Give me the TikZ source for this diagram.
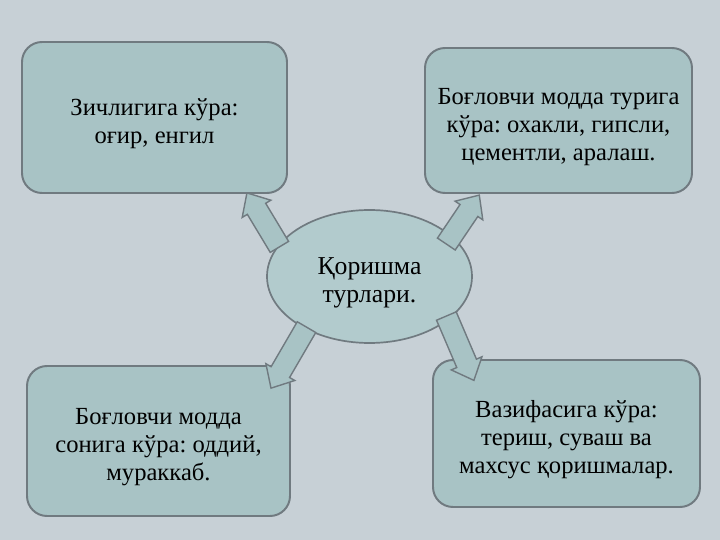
\documentclass[tikz,border=0pt]{standalone}
\usepackage{fontspec}
\setmainfont{Liberation Serif}
\frenchspacing
\usetikzlibrary{shapes.geometric,shapes.arrows}
\definecolor{bgcol}{RGB}{199,208,214}
\definecolor{boxcol}{RGB}{168,195,197}
\definecolor{ellcol}{RGB}{178,203,205}
\definecolor{edgecol}{RGB}{112,122,128}
\begin{document}
\begin{tikzpicture}[
kind/.style = {draw=edgecol, line width=1.4pt, fill=boxcol, rounded corners=0.5cm, inner sep=0pt},
txt/.style = {align=center, inner sep=0pt, yshift=-0.16cm, font=\fontsize{17.5}{19.8}\selectfont},
hub/.style = {ellipse, draw=edgecol, line width=1.2pt, fill=ellcol, inner sep=0pt,
              minimum width=5.125cm, minimum height=3.325cm},
blockarrow/.style = {single arrow, draw=edgecol, line width=1pt, fill=boxcol,
                     inner sep=0.25cm, single arrow head extend=0.15cm,
                     single arrow tip angle=84, minimum height=#1,
                     sloped, allow upside down}
                    ]
\fill[bgcol] (0,0) rectangle (18,13.5);
\useasboundingbox (0,0) rectangle (18,13.5);

    \node[kind, minimum width=6.625cm, minimum height=3.775cm] (dens) at (3.8625,10.5625) {};
    \node[txt] (dens-t) at (dens) {Зичлигига кўра:\\оғир, енгил};
    \node[kind, minimum width=6.675cm, minimum height=3.625cm] (bind) at (13.9625,10.4875) {};
    \node[txt] (bind-t) at (bind) {Боғловчи модда турига\\кўра: охакли, гипсли,\\цементли, аралаш.};
    \node[kind, minimum width=6.575cm, minimum height=3.75cm] (count) at (3.9625,2.475) {};
    \node[txt] (count-t) at (count) {Боғловчи модда\\сонига кўра: оддий,\\мураккаб.};
    \node[kind, minimum width=6.675cm, minimum height=3.675cm] (use) at (14.1625,2.6625) {};
    \node[txt] (use-t) at (use) {Вазифасига кўра:\\териш, суваш ва\\махсус қоришмалар.};

    \node[hub] (mortar) at (9.2375,6.5875) {};
    \node[txt, font=\fontsize{18.3}{20.5}\selectfont] (mortar-t) at (mortar) {Қоришма\\турлари.};

    \coordinate (t1) at (7.0625,7.2);   \coordinate (h1) at (6.25,8.55);
    \coordinate (t2) at (11.075,7.275); \coordinate (h2) at (11.9,8.5);
    \coordinate (t3) at (7.7375,5.45);  \coordinate (h3) at (6.85,3.925);
    \coordinate (t4) at (11.1,5.7375);  \coordinate (h4) at (11.79,4.125);
    \foreach \i/\len in {1/1.575cm,2/1.475cm,3/1.765cm,4/1.75cm}
        \path (t\i) -- (h\i) node[blockarrow=\len, midway] (arr\i) {};

\end{tikzpicture}
\end{document}
